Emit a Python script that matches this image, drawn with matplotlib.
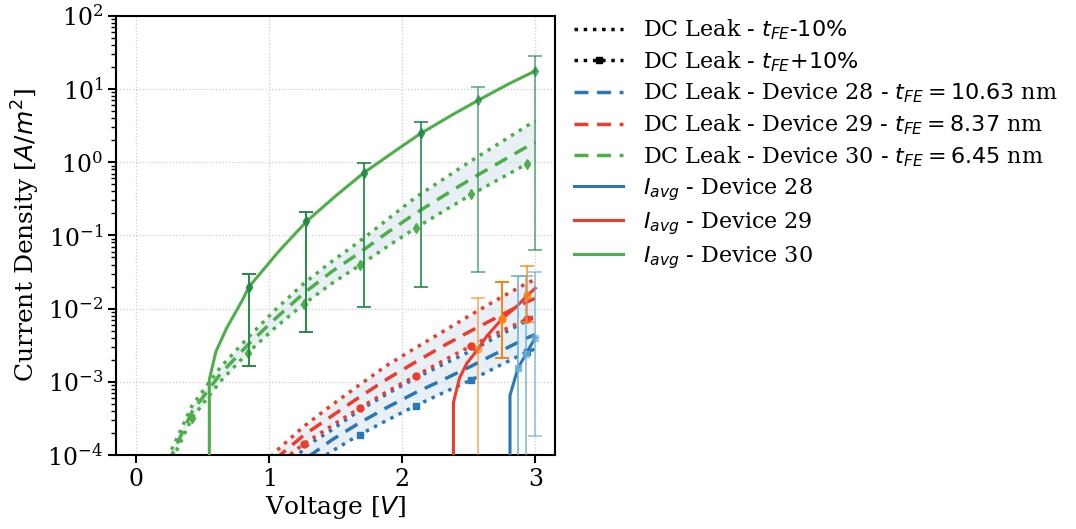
import numpy as np
import matplotlib
matplotlib.use('Agg')
import matplotlib.pyplot as plt
from matplotlib.lines import Line2D

plt.rcParams['font.family'] = 'DejaVu Serif'
plt.rcParams['mathtext.fontset'] = 'dejavusans'

# DC leakage model, common voltage grid [V]
v_dc = [0.0, 0.21, 0.42, 0.63, 0.84, 1.05, 1.26, 1.47, 1.68, 1.89, 2.10, 2.31, 2.52, 2.73, 2.94, 3.0]

# Device 28 - t_FE = 10.63 nm  [A/m^2]
j28_dc = [4.0e-9, 4.0e-8, 2.5e-7, 1.26e-6, 6.3e-6, 2.6e-5, 8.5e-5, 1.6e-4, 2.75e-4, 4.5e-4,
          7.1e-4, 1.07e-3, 1.64e-3, 2.57e-3, 4.0e-3, 4.4e-3]
j28_m10 = [5.0e-9, 5.0e-8, 3.2e-7, 1.8e-6, 8.9e-6, 3.3e-5, 1.26e-4, 2.2e-4, 4.1e-4, 6.9e-4,
           1.12e-3, 1.74e-3, 2.66e-3, 4.3e-3, 6.9e-3, 7.6e-3]
j28_p10 = [3.2e-9, 3.2e-8, 2.0e-7, 1.0e-6, 5.0e-6, 2.0e-5, 6.3e-5, 1.12e-4, 1.9e-4, 3.0e-4,
           4.7e-4, 7.1e-4, 1.06e-3, 1.66e-3, 2.57e-3, 2.8e-3]

# Device 29 - t_FE = 8.37 nm
j29_dc = [3.5e-8, 3.0e-7, 1.9e-6, 9.8e-6, 3.5e-5, 8.9e-5, 1.86e-4, 3.4e-4, 6.2e-4, 1.1e-3,
          1.86e-3, 3.1e-3, 5.0e-3, 7.9e-3, 1.24e-2, 1.38e-2]
j29_m10 = [4.0e-8, 3.5e-7, 2.3e-6, 1.2e-5, 4.3e-5, 1.12e-4, 2.45e-4, 4.8e-4, 9.1e-4, 1.7e-3,
           2.9e-3, 4.9e-3, 8.3e-3, 1.38e-2, 2.24e-2, 2.5e-2]
j29_p10 = [3.2e-8, 2.5e-7, 1.6e-6, 7.9e-6, 2.8e-5, 7.1e-5, 1.41e-4, 2.5e-4, 4.4e-4, 7.4e-4,
           1.2e-3, 1.95e-3, 3.1e-3, 4.8e-3, 7.2e-3, 7.9e-3]

# Device 30 - t_FE = 6.45 nm
j30_dc = [3.5e-7, 5.9e-5, 3.9e-4, 1.26e-3, 3.2e-3, 7.4e-3, 1.62e-2, 3.2e-2, 5.8e-2, 0.110,
          0.200, 0.347, 0.596, 0.989, 1.64, 1.86]
j30_m10 = [4.0e-7, 7.1e-5, 4.7e-4, 1.55e-3, 4.0e-3, 9.8e-3, 2.2e-2, 4.4e-2, 8.3e-2, 0.166,
           0.331, 0.589, 1.05, 1.82, 3.16, 3.63]
j30_p10 = [3.2e-7, 5.0e-5, 3.2e-4, 1.0e-3, 2.5e-3, 5.6e-3, 1.15e-2, 2.2e-2, 3.9e-2, 7.1e-2,
           0.126, 0.214, 0.363, 0.589, 0.955, 1.07]

# measured average current
v28_avg = [2.77, 2.81, 2.87, 2.93, 3.0]
j28_avg = [0.0, 6.5e-4, 1.53e-3, 2.4e-3, 4.0e-3]
v29_avg = [2.34, 2.385, 2.43, 2.485, 2.57, 2.635, 2.75, 2.86, 2.94, 3.0]
j29_avg = [0.0, 5.2e-4, 1.12e-3, 1.78e-3, 2.8e-3, 4.2e-3, 7.2e-3, 1.07e-2, 1.51e-2, 1.9e-2]
v30_avg = [0.50, 0.55, 0.60, 0.68, 0.80, 0.85, 1.07, 1.28, 1.50, 1.71, 1.93, 2.14, 2.36, 2.57, 2.79, 3.0]
j30_avg = [0.0, 1.07e-3, 2.6e-3, 5.4e-3, 1.32e-2, 2.0e-2, 6.0e-2, 0.155, 0.347, 0.714,
           1.36, 2.48, 4.27, 7.0, 11.5, 17.7]

# error bars (centre, min, max)
v28_err = [2.87, 2.93, 3.0]
j28_err = [1.53e-3, 2.4e-3, 4.0e-3]
j28_errlo = [0.0, 0.0, 1.8e-4]
j28_errhi = [2.8e-2, 2.75e-2, 3.2e-2]
v29_err = [2.57, 2.75, 2.94]
j29_err = [2.8e-3, 7.2e-3, 1.51e-2]
j29_errlo = [0.0, 2.1e-3, 6.6e-3]
j29_errhi = [1.41e-2, 2.3e-2, 3.8e-2]
v30_err = [0.85, 1.28, 1.71, 2.14, 2.57, 3.0]
j30_err = [2.0e-2, 0.155, 0.714, 2.48, 7.0, 17.7]
j30_errlo = [1.66e-3, 4.8e-3, 1.05e-2, 2.0e-2, 3.2e-2, 6.3e-2]
j30_errhi = [2.95e-2, 0.209, 0.97, 3.6, 10.8, 28.4]

blue = '#2878b8'
red = '#ee3b2c'
green = '#4daf4a'

fig, ax = plt.subplots(figsize=(10.76, 5.29), dpi=100)
fig.subplots_adjust(left=0.108, right=0.516, bottom=0.14, top=0.97)

mark_idx = [2, 4, 6, 8, 10, 12, 14]
devices = [
    ('28', '10.63', blue, 's', j28_dc, j28_m10, j28_p10),
    ('29', '8.37', red, 'o', j29_dc, j29_m10, j29_p10),
    ('30', '6.45', green, 'd', j30_dc, j30_m10, j30_p10),
]
dc_handles = []
for dev, tfe, c, mk, dc, m10, p10 in devices:
    ax.fill_between(v_dc, m10, p10, color='steelblue', alpha=0.12, lw=0, zorder=1)
    ax.plot(v_dc, m10, ':', color=c, lw=2.5, zorder=2)
    ax.plot(v_dc, p10, ':', color=c, lw=2.5, marker=mk, markevery=mark_idx, ms=5, zorder=2)
    h, = ax.plot(v_dc, dc, '--', color=c, lw=2.5, dashes=(4, 2.5), zorder=2,
                 label='DC Leak - Device %s - $t_{FE} = %s$ nm' % (dev, tfe))
    dc_handles.append(h)

avg_handles = []
for dev, v, j, c in [('28', v28_avg, j28_avg, blue), ('29', v29_avg, j29_avg, red),
                     ('30', v30_avg, j30_avg, green)]:
    h, = ax.plot(v, j, '-', color=c, lw=2.2, zorder=3,
                 label='$I_{avg}$ - Device %s' % dev)
    avg_handles.append(h)

# error bars, drawn one by one
errsets = [
    (v28_err, j28_err, j28_errlo, j28_errhi, '#6baed6', 's', [0.8, 0.7, 0.6]),
    (v29_err, j29_err, j29_errlo, j29_errhi, '#ff7f0e', 'o', [0.55, 1.0, 0.7]),
    (v30_err, j30_err, j30_errlo, j30_errhi, '#238b45', 'd', [1.0, 1.0, 0.9, 0.85, 0.6, 0.6]),
]
for v, j, lo, hi, c, mk, alphas in errsets:
    for k in range(len(v)):
        ax.errorbar([v[k]], [j[k]], yerr=[[j[k] - lo[k]], [hi[k] - j[k]]], fmt=mk,
                    color=c, ms=5, capsize=5, elinewidth=1.4, capthick=1.4,
                    alpha=alphas[k], zorder=4)

ax.set_yscale('log')
ax.set_ylim(1e-4, 1e2)
ax.set_xlim(-0.15, 3.15)
ax.set_xticks([0, 1, 2, 3])
ax.grid(True, which='major', ls=':', color='#cccccc', lw=0.9)
ax.tick_params(which='major', direction='out', length=6, width=1.5, labelsize=17)
ax.tick_params(which='minor', direction='out', length=3.5, width=1.0)
for s in ax.spines.values():
    s.set_linewidth(1.5)
ax.set_xlabel('Voltage [$V$]', fontsize=18, labelpad=2)
ax.set_ylabel('Current Density [$A/m^2$]', fontsize=18, labelpad=4)

h_m10 = Line2D([], [], color='k', ls=':', lw=2.5)
h_p10 = Line2D([], [], color='k', ls=':', lw=2.5, marker='s', ms=5, markevery=[1])
h_p10.set_data([0, 1, 2], [0, 0, 0])
handles = [h_m10, h_p10] + dc_handles + avg_handles
labels = [r'DC Leak - $t_{FE}$-$10\%$', r'DC Leak - $t_{FE}$+$10\%$'] + \
         [h.get_label() for h in dc_handles + avg_handles]
fig.legend(handles, labels, loc='upper left', bbox_to_anchor=(0.515, 1.005),
           frameon=False, fontsize=16, handlelength=2.2, handletextpad=0.9,
           labelspacing=0.32)

plt.savefig('out.png', dpi=100)
